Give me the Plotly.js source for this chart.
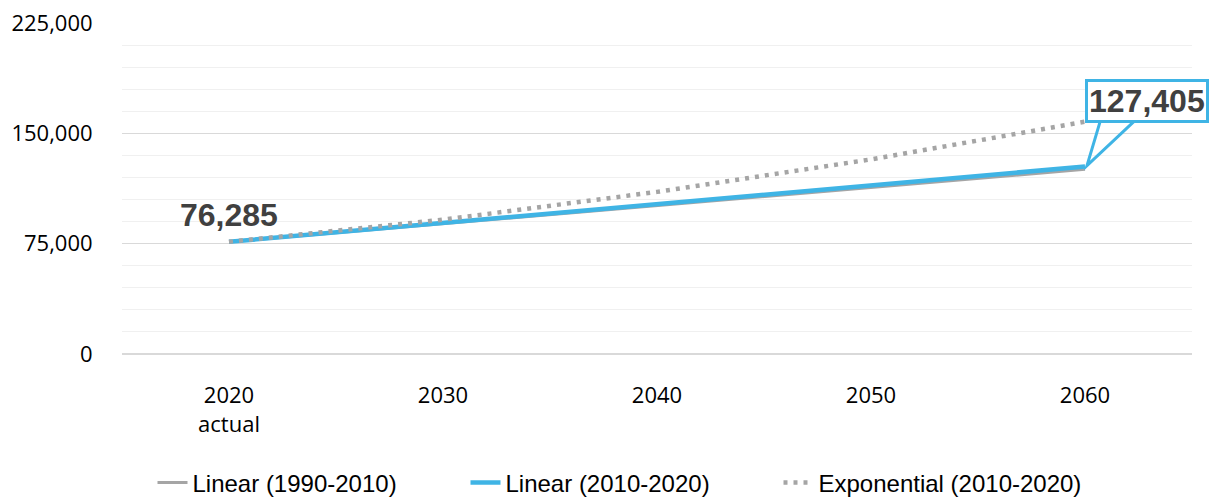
<!DOCTYPE html>
<html>
<head>
<meta charset="utf-8">
<script src="https://cdn.plot.ly/plotly-3.0.1.min.js"></script>
<style>html,body{margin:0;padding:0;background:#fff;}#chart{width:1222px;height:500px;}</style>
</head>
<body>
<div id="chart"></div>
<script>
const years = [2020, 2030, 2040, 2050, 2060];
const tickLabels = ["2020<br>actual", "2030", "2040", "2050", "2060"];
const linear1990 = [76285, 88600, 100900, 113200, 125500];
const linear2010 = [76285, 89065, 101845, 114625, 127405];
const exponential2010 = [76285, 91300, 110200, 132300, 157900];
const yTicks = [0, 75000, 150000, 225000];
const yTickLabels = ["0", "75,000", "150,000", "225,000"];
const startLabel = "76,285";
const endLabel = "127,405";

const GRAY = '#a5a5a5';
const BLUE = '#3fb4e5';

const traces = [
  {x: years, y: linear1990, name: 'Linear (1990-2010)', mode: 'lines', line: {color: GRAY, width: 3}},
  {x: years, y: linear2010, name: 'Linear (2010-2020)', mode: 'lines', line: {color: BLUE, width: 4.5}},
  {x: years, y: exponential2010, name: 'Exponential (2010-2020)', mode: 'lines', line: {color: GRAY, width: 4.5, dash: '4px,6px'}}
];

const layout = {
  width: 1222, height: 500,
  margin: {l: 122, r: 30, t: 23, b: 146, autoexpand: false},
  paper_bgcolor: '#fff', plot_bgcolor: '#fff',
  showlegend: true,
  legend: {orientation: 'h', x: 0.509, xref: 'container', xanchor: 'center', y: 0.034, yref: 'container', yanchor: 'middle',
           font: {family: 'Liberation Sans, Arial, sans-serif', size: 24, color: '#000'},
           entrywidth: 268, traceorder: 'normal'},
  xaxis: {range: [2015, 2065], tickvals: years, ticktext: tickLabels, showgrid: false, zeroline: false, automargin: false,
          showline: false, ticks: 'outside', ticklen: 22, tickcolor: 'rgba(0,0,0,0)',
          tickfont: {family: 'Open Sans, sans-serif', size: 22, color: '#000'}},
  yaxis: {range: [0, 225000], tickvals: yTicks, ticktext: yTickLabels, showgrid: true, gridcolor: '#d9d9d9', gridwidth: 1.5,
          zeroline: true, zerolinecolor: '#d9d9d9', zerolinewidth: 1.5, showline: false, automargin: false,
          ticks: 'outside', ticklen: 24, tickcolor: 'rgba(0,0,0,0)',
          minor: {tickvals: [15000,30000,45000,60000,90000,105000,120000,135000,165000,180000,195000,210000], showgrid: true, gridcolor: '#f0f0f0', gridwidth: 1},
          tickfont: {family: 'Open Sans, sans-serif', size: 22, color: '#000'}},
  shapes: [
    {type: 'path', xref: 'x', yref: 'y', xsizemode: 'pixel', ysizemode: 'pixel',
     xanchor: years[4], yanchor: linear2010[4],
     path: 'M 16 48 L 2 1 L 52 48', line: {color: BLUE, width: 3}, fillcolor: 'rgba(0,0,0,0)', layer: 'above'}
  ],
  annotations: [
    {x: years[0], y: linear2010[0], xref: 'x', yref: 'y', text: startLabel, showarrow: false, yshift: 27,
     font: {family: 'Liberation Sans, Arial, sans-serif', size: 32, color: '#404040', weight: 'bold'}},
    {x: years[4], y: linear2010[4], xref: 'x', yref: 'y', text: endLabel, showarrow: false, xshift: 62, yshift: 66,
     bgcolor: '#fff', bordercolor: BLUE, borderwidth: 3, borderpad: 1,
     font: {family: 'Liberation Sans, Arial, sans-serif', size: 32, color: '#404040', weight: 'bold'}}
  ]
};

Plotly.newPlot('chart', traces, layout, {displayModeBar: false, staticPlot: true});
</script>
</body>
</html>
